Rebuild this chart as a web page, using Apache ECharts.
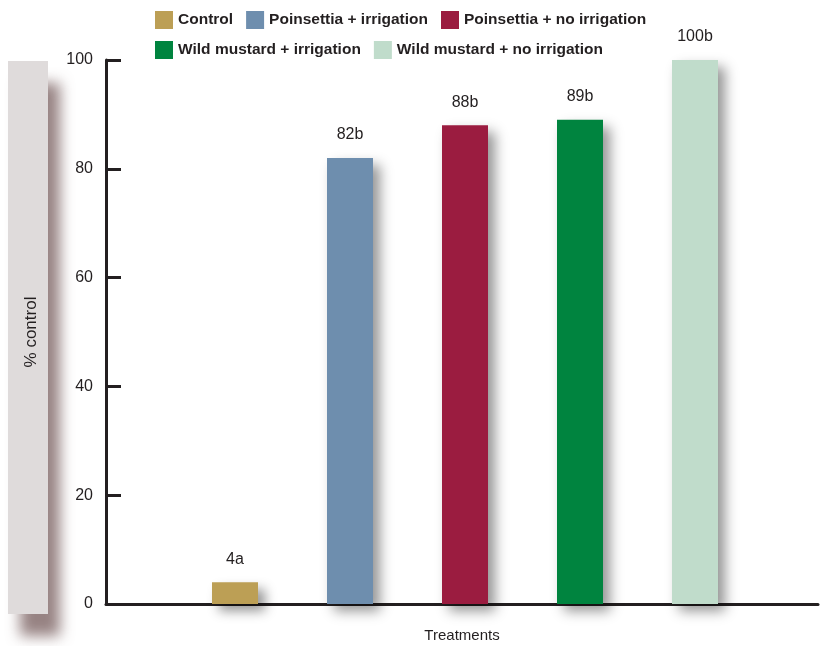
<!DOCTYPE html>
<html>
<head>
<meta charset="utf-8">
<script src="https://cdn.jsdelivr.net/npm/echarts@6/dist/echarts.min.js"></script>
<style>
  html, body { margin: 0; padding: 0; background: #ffffff; }
  #chart { width: 820px; height: 646px; }
</style>
</head>
<body>
<div id="chart"></div>
<script>
// Treatments and their percent control, with significance letters
const treatments = [
  'Control',
  'Poinsettia + irrigation',
  'Poinsettia + no irrigation',
  'Wild mustard + irrigation',
  'Wild mustard + no irrigation'
];
const percentControl = [4, 82, 88, 89, 100];
const letters = ['a', 'b', 'b', 'b', 'b'];
const colors = ['#bc9f55', '#6e8eae', '#9b1c40', '#00843f', '#c0dccb'];
const yTicks = { min: 0, max: 100, interval: 20 };

const FONT = '"Liberation Sans Narrow", "Arial Narrow", "Liberation Sans", sans-serif';
const INK = '#231f20';

// One series per treatment so each gets its own legend entry; all share
// the category axis and overlap with barGap -100%.
const series = treatments.map((name, i) => ({
  name: name,
  type: 'bar',
  xAxisIndex: 1,
  yAxisIndex: 1,
  barWidth: 46,
  barGap: '-100%',
  data: treatments.map((_, j) => (j === i ? percentControl[i] : '-')),
  itemStyle: {
    color: colors[i],
    shadowColor: 'rgba(0,0,0,0.42)',
    shadowBlur: 12,
    shadowOffsetX: 7,
    shadowOffsetY: 7
  },
  label: {
    show: true,
    position: 'top',
    distance: 15,
    color: INK,
    fontFamily: FONT,
    fontSize: 16,
    formatter: p => p.value + letters[i]
  }
}));

const legendText = { fontFamily: FONT, fontSize: 15.5, fontWeight: 'bold', color: INK };

const chart = echarts.init(document.getElementById('chart'));
chart.setOption({
  animation: false,
  backgroundColor: '#ffffff',
  graphic: [{
    type: 'rect',
    z: -10,
    shape: { x: 8, y: 61, width: 40, height: 553 },
    style: {
      fill: '#dfdbdb',
      shadowColor: 'rgba(125,100,100,0.8)',
      shadowBlur: 14,
      shadowOffsetX: 12,
      shadowOffsetY: 22
    }
  }],
  legend: [{
    top: 11,
    left: 155,
    padding: 0,
    itemWidth: 18,
    itemHeight: 18,
    itemGap: 13,
    icon: 'rect',
    data: treatments.slice(0, 3),
    textStyle: legendText
  }, {
    top: 41,
    left: 155,
    padding: 0,
    itemWidth: 18,
    itemHeight: 18,
    itemGap: 13,
    icon: 'rect',
    data: treatments.slice(3),
    textStyle: legendText
  }],
  grid: [
    { left: 106, top: 60, width: 712, height: 544, outerBoundsMode: 'none', containLabel: false },
    { left: 177.5, top: 60, width: 575, height: 544, outerBoundsMode: 'none', containLabel: false }
  ],
  xAxis: [{
    gridIndex: 0,
    type: 'category',
    data: [''],
    name: 'Treatments',
    nameLocation: 'middle',
    nameGap: 24,
    nameTextStyle: { fontFamily: FONT, fontSize: 15, color: INK },
    axisLine: { lineStyle: { color: INK, width: 3 } },
    axisTick: { show: false },
    axisLabel: { show: false }
  }, {
    gridIndex: 1,
    type: 'category',
    data: treatments,
    show: false
  }],
  yAxis: [{
    gridIndex: 0,
    type: 'value',
    min: yTicks.min,
    max: yTicks.max,
    interval: yTicks.interval,
    name: '% control',
    nameLocation: 'middle',
    nameRotate: 90,
    nameGap: 66,
    nameTextStyle: { fontFamily: FONT, fontSize: 17, color: INK },
    axisLine: { show: true, lineStyle: { color: INK, width: 3 } },
    axisTick: { show: true, inside: true, length: 15, lineStyle: { color: INK, width: 3 } },
    axisLabel: { margin: 13, fontFamily: FONT, fontSize: 16, color: INK },
    splitLine: { show: false }
  }, {
    gridIndex: 1,
    type: 'value',
    min: yTicks.min,
    max: yTicks.max,
    show: false
  }],
  series: series
});
</script>
</body>
</html>
